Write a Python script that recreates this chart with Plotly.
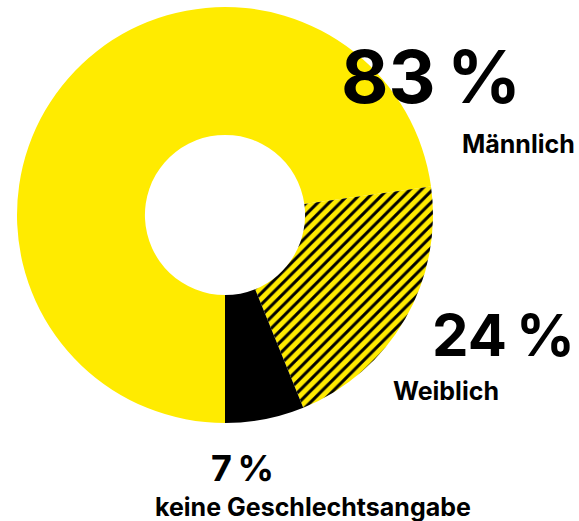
import plotly.graph_objects as go

W, H = 579, 521

# Shares per gender group
labels = ["Männlich", "Weiblich", "keine Geschlechtsangabe"]
values = [83, 24, 7]
value_text = ["83\u2009%", "24\u2009%", "7\u2009%"]

YELLOW = "#ffeb00"
BLACK = "#000000"

def px_x(x):
    return x / W

def px_y(y):
    return 1 - y / H

fig = go.Figure()
fig.add_trace(go.Pie(
    labels=labels,
    values=values,
    sort=False,
    direction="clockwise",
    rotation=180,
    hole=0.385,
    textinfo="none",
    hoverinfo="label+value",
    showlegend=False,
    marker=dict(
        colors=[YELLOW, YELLOW, BLACK],
        line=dict(width=0),
        pattern=dict(
            shape=["", "/", ""],
            fgcolor=BLACK,
            bgcolor=[YELLOW, YELLOW, BLACK],
            size=8,
            solidity=0.38,
        ),
    ),
    domain=dict(x=[px_x(17), px_x(433)], y=[px_y(423), px_y(7)]),
))

FONT = "Inter"

def label(text, x, y, size):
    fig.add_annotation(
        text=text, x=px_x(x), y=px_y(y), xref="paper", yref="paper",
        xanchor="left", yanchor="middle", showarrow=False,
        font=dict(family=FONT, size=size, color=BLACK, weight=700),
    )

label(value_text[0], 339, 76, 73)
label(labels[0], 460, 144, 25)
label(value_text[1], 430, 335, 58)
label(labels[1], 391, 391, 25)
label(value_text[2], 209, 468, 36)
label(labels[2], 153, 507, 25)

fig.update_layout(
    width=W, height=H,
    margin=dict(l=0, r=0, t=0, b=0),
    paper_bgcolor="white",
    plot_bgcolor="white",
)

fig.write_html("out.html")
